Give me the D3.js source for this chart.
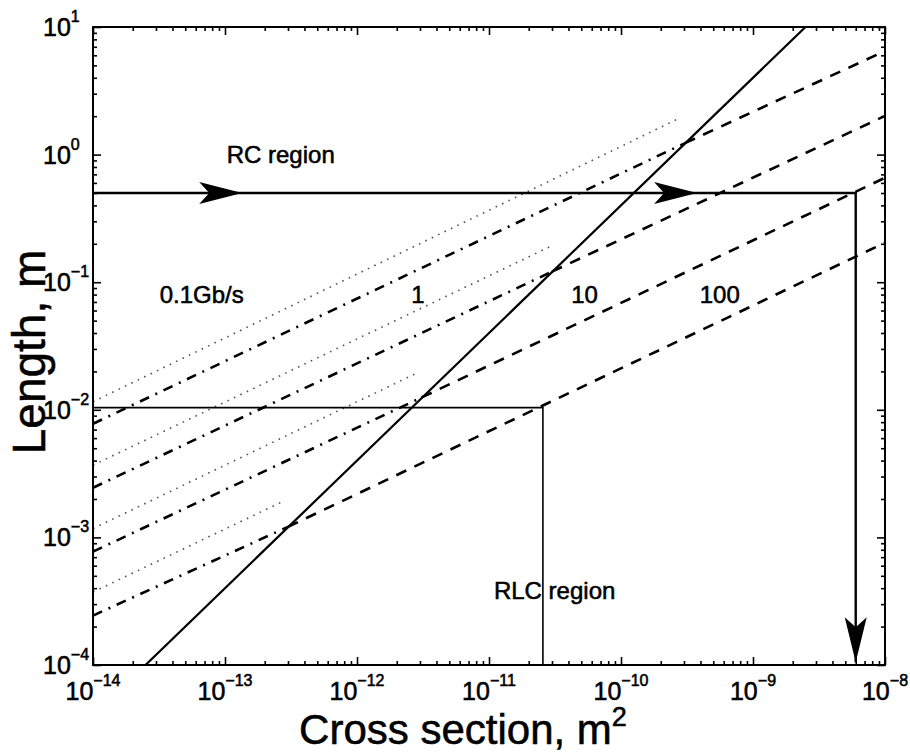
<!DOCTYPE html>
<html><head><meta charset="utf-8">
<script src="https://cdn.jsdelivr.net/npm/d3@7"></script>
<style>body{margin:0;background:#fff}svg{display:block}</style>
</head><body><svg id="c" width="910" height="753"></svg>
<script>
// ---- data ----
const xTickVals = [1e-14, 1e-13, 1e-12, 1e-11, 1e-10, 1e-9, 1e-8];
const xTickExp  = ["−14", "−13", "−12", "−11", "−10", "−9", "−8"];
const yTickVals = [1e-4, 1e-3, 1e-2, 1e-1, 1e0, 1e1];
const yTickExp  = ["−4", "−3", "−2", "−1", "0", "1"];

// RC / RLC boundary (solid)
const solidA = [2.5e-14, 2.5e-9];
const solidL = [1e-4, 1e1];

// bit-rate labels
const rateLabels = ["0.1Gb/s", "1", "10", "100"];
const rateLabelA = [3.2e-14, 2.9e-12, 5.3e-11, 5.6e-10];
const rateLabelL = [0.069, 0.069, 0.069, 0.069];

// dotted lines (one per bit rate)
const dottedStartA = [1e-14, 1e-14, 1e-14, 1e-14];
const dottedStartL = [0.01156, 0.00368, 0.001172, 3.73e-4];
const dottedEndA   = [2.8e-10, 2.9e-11, 2.9e-12, 2.65e-13];
const dottedEndL   = [1.94, 0.190, 0.0196, 1.88e-3];

// dash-dot lines up to the boundary, then dashed to the right edge
const ddStartA = [1e-14, 1e-14, 1e-14, 1e-14];
const ddStartL = [0.00777, 0.00245, 7.74e-4, 2.44e-4];
const crossA   = [3.05e-10, 3.0e-11, 3.09e-12, 3.0e-13];
const crossL   = [1.23, 0.121, 0.0125, 0.00121];
const dashEndA = [1e-8, 1e-8, 1e-8, 1e-8];
const dashEndL = [6.49, 2.01, 0.658, 0.204];

// RC region path (L = 0.5 m) and RLC region box
const rcPathA = [1e-14, 6.0e-9, 6.0e-9];
const rcPathL = [0.5, 0.5, 1.05e-4];
const rcArrowA = [1.35e-13, 3.77e-10];
const rlcPathA = [1e-14, 2.56e-11, 2.56e-11];
const rlcPathL = [0.0104, 0.0104, 1e-4];

const notes  = ["RC region", "RLC region"];
const notesA = [1.03e-13, 1.09e-11];
const notesL = [0.86, 3.3e-4];

// ---- drawing ----
const svg = d3.select("#c");
const M = {l: 93, r: 885, t: 27, b: 665};
const x = d3.scaleLog().domain([xTickVals[0], xTickVals[xTickVals.length - 1]]).range([M.l, M.r]);
const y = d3.scaleLog().domain([yTickVals[0], yTickVals[yTickVals.length - 1]]).range([M.b, M.t]);
const FONT = "'Liberation Sans', Arial, Helvetica, sans-serif";
const txt = (sel) => sel.attr("font-family", FONT).attr("fill", "#000")
  .attr("stroke", "#000").attr("stroke-width", 0.55);

svg.append("defs").append("clipPath").attr("id", "clip")
  .append("rect").attr("x", M.l).attr("y", M.t).attr("width", M.r - M.l).attr("height", M.b - M.t);

const minor = (vals) => {
  const out = [];
  for (let i = 0; i < vals.length - 1; i++) for (let k = 2; k <= 9; k++) out.push(vals[i] * k);
  return out;
};
const xMinor = minor(xTickVals), yMinor = minor(yTickVals);

function axis(gen, scale, vals, size, tr) {
  svg.append("g").attr("transform", tr)
    .call(gen(scale).tickValues(vals).tickSize(size).tickSizeOuter(0).tickFormat(""))
    .call(g => g.select(".domain").remove())
    .call(g => g.selectAll("line").attr("stroke", "#000").attr("stroke-width", 1.6));
}
axis(d3.axisBottom, x, xTickVals, -8, `translate(0,${M.b})`);
axis(d3.axisBottom, x, xMinor, -4, `translate(0,${M.b})`);
axis(d3.axisTop, x, xTickVals, -8, `translate(0,${M.t})`);
axis(d3.axisTop, x, xMinor, -4, `translate(0,${M.t})`);
axis(d3.axisLeft, y, yTickVals, -8, `translate(${M.l},0)`);
axis(d3.axisLeft, y, yMinor, -4, `translate(${M.l},0)`);
axis(d3.axisRight, y, yTickVals, -8, `translate(${M.r},0)`);
axis(d3.axisRight, y, yMinor, -4, `translate(${M.r},0)`);

const plot = svg.append("g").attr("clip-path", "url(#clip)");
const line = d3.line().x(d => x(d[0])).y(d => y(d[1]));

// dotted
rateLabels.forEach((_, i) => {
  plot.append("path").attr("d", line([[dottedStartA[i], dottedStartL[i]], [dottedEndA[i], dottedEndL[i]]]))
    .attr("fill", "none").attr("stroke", "#555").attr("stroke-width", 1.6)
    .attr("stroke-dasharray", "1.6,5.5");
});
// dash-dot then dashed
rateLabels.forEach((_, i) => {
  plot.append("path").attr("d", line([[ddStartA[i], ddStartL[i]], [crossA[i], crossL[i]]]))
    .attr("fill", "none").attr("stroke", "#000").attr("stroke-width", 2.6)
    .attr("stroke-dasharray", "10,7,2,7");
  plot.append("path").attr("d", line([[crossA[i], crossL[i]], [dashEndA[i], dashEndL[i]]]))
    .attr("fill", "none").attr("stroke", "#000").attr("stroke-width", 2.6)
    .attr("stroke-dasharray", "11,9");
});
// solid boundary
plot.append("path").attr("d", line(solidA.map((a, i) => [a, solidL[i]])))
  .attr("fill", "none").attr("stroke", "#000").attr("stroke-width", 2.2);

// RC path
plot.append("path").attr("d", line(rcPathA.map((a, i) => [a, rcPathL[i]])))
  .attr("fill", "none").attr("stroke", "#000").attr("stroke-width", 2.4);
// RLC path
plot.append("path").attr("d", line(rlcPathA.map((a, i) => [a, rlcPathL[i]])))
  .attr("fill", "none").attr("stroke", "#000").attr("stroke-width", 1.6);

// arrow heads
function arrowH(tx, ty) {
  return `M${tx},${ty} L${tx - 43},${ty - 11} L${tx - 33},${ty} L${tx - 43},${ty + 11} Z`;
}
rcArrowA.forEach(a => {
  svg.append("path").attr("d", arrowH(x(a), y(rcPathL[0]))).attr("fill", "#000");
});
{
  const tx = x(rcPathA[2]), ty = y(rcPathL[2]);
  svg.append("path").attr("d", `M${tx},${ty} L${tx - 11},${ty - 45} L${tx},${ty - 35} L${tx + 11},${ty - 45} Z`).attr("fill", "#000");
}

// box
svg.append("rect").attr("x", M.l).attr("y", M.t).attr("width", M.r - M.l).attr("height", M.b - M.t)
  .attr("fill", "none").attr("stroke", "#000").attr("stroke-width", 2);

// text labels inside
rateLabels.forEach((t, i) => {
  svg.append("text").attr("x", x(rateLabelA[i])).attr("y", y(rateLabelL[i]))
    .attr("text-anchor", i === 0 ? "start" : "middle")
    .call(txt).attr("font-size", 24).text(t);
});
notes.forEach((t, i) => {
  svg.append("text").attr("x", x(notesA[i])).attr("y", y(notesL[i]))
    .call(txt).attr("font-size", 24).text(t);
});

// tick labels
xTickVals.forEach((v, i) => {
  const t = svg.append("text").attr("x", x(v)).attr("y", M.b + 35).attr("text-anchor", "middle")
    .call(txt).attr("font-size", 25);
  t.append("tspan").text("10");
  t.append("tspan").attr("dy", -14).attr("font-size", 16).text(xTickExp[i]);
});
yTickVals.forEach((v, i) => {
  const t = svg.append("text").attr("x", 43).attr("y", y(v) + 9)
    .call(txt).attr("font-size", 25);
  t.append("tspan").text("10");
  t.append("tspan").attr("dy", -14).attr("font-size", 16).text(yTickExp[i]);
});

// axis titles
{
  const t = svg.append("text").attr("x", 463).attr("y", 744).attr("text-anchor", "middle")
    .call(txt).attr("font-size", 42);
  t.append("tspan").text("Cross section, m");
  t.append("tspan").attr("dy", -18).attr("font-size", 27).text("2");
}
svg.append("text").attr("transform", "translate(45,352) rotate(-90)").attr("text-anchor", "middle")
  .call(txt).attr("font-size", 46)
  .text("Length, m");
</script>
</body></html>
